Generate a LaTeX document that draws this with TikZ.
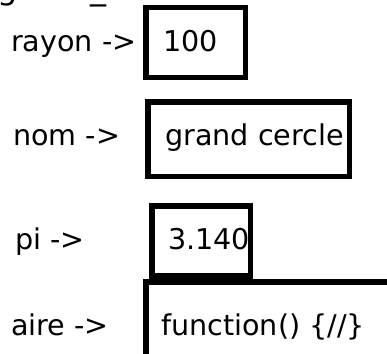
\documentclass[tikz,border=0pt]{standalone}
\usepackage{fontspec}
\setmainfont{DejaVu Sans}
\begin{document}
\begin{tikzpicture}[x=1pt, y=-1pt,
    every node/.style={inner sep=0pt, anchor=base west, font=\fontsize{28.6}{34}\selectfont},
    case/.style={line width=5.5pt}]
    \useasboundingbox (0,0) rectangle (387,353);
    \clip (0,0) rectangle (387,353);
    \fill[white] (0,0) rectangle (387,353);
    % nom de l'objet, coupe en haut
    \node[font=\fontsize{32}{38}\selectfont] (objet) at (-3,-0.5) {grand\_cercle};
    % les cases
    \draw[case] (145.75,7.75) rectangle (245.25,77.25);
    \draw[case] (147.75,101.75) rectangle (349.25,176.25);
    \draw[case] (151.75,205.75) rectangle (250.25,275.75);
    \draw[case] (145.75,281.75) rectangle (400,370);
    % proprietes et valeurs
    \node (rayon) at (11,51) {rayon ->};
    \node (vrayon) at (163,51) {100};
    \node (nom) at (13,145) {nom ->};
    \node (vnom) at (165,145) {grand cercle};
    \node (pi) at (15,249) {pi ->};
    \node (vpi) at (168,249) {3.140};
    \node (aire) at (11,335) {aire ->};
    \node (vaire) at (161,335) {function() \{//\}};
\end{tikzpicture}
\end{document}
